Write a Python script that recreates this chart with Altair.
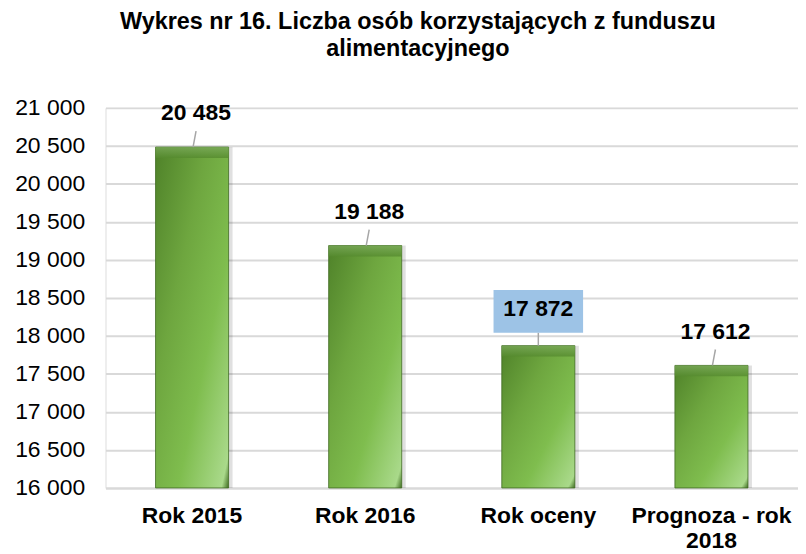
import altair as alt
import pandas as pd

categories = ["Rok 2015", "Rok 2016", "Rok oceny", "Prognoza - rok\n2018"]
values = [20485, 19188, 17872, 17612]
highlighted = [False, False, True, False]
y_ticks = [16000, 16500, 17000, 17500, 18000, 18500, 19000, 19500, 20000, 20500, 21000]
title_lines = ["Wykres nr 16. Liczba osób korzystających z funduszu", "alimentacyjnego"]

df = pd.DataFrame({"cat": categories, "val": values, "hl": highlighted})

FONT = "Liberation Sans"
FS = 23

x_enc = alt.X(
    "cat:N",
    sort=categories,
    title=None,
    scale=alt.Scale(paddingInner=0.578, paddingOuter=0.289),
    axis=alt.Axis(
        labelAngle=0,
        labelFont=FONT,
        labelFontSize=FS,
        labelFontWeight="bold",
        labelColor="#000000",
        labelPadding=17,
        labelLineHeight=25,
        labelExpr="split(datum.label, '\\n')",
        labelOverlap=False,
        ticks=False,
        domain=True,
        domainColor="#d9d9d9",
        domainWidth=2,
        grid=False,
    ),
)
y_scale = alt.Scale(domain=[16000, 21000], nice=False, zero=False)
y_enc = alt.Y(
    "val:Q",
    scale=y_scale,
    title=None,
    axis=alt.Axis(
        values=y_ticks,
        labelExpr="replace(format(datum.value, ','), ',', ' ')",
        labelFont=FONT,
        labelFontSize=FS,
        labelColor="#000000",
        labelPadding=21,
        labelOverlap=False,
        ticks=False,
        domain=False,
        grid=True,
        gridColor="#d9d9d9",
        gridWidth=2,
    ),
)
y0 = alt.Y2(datum=16000)

base = alt.Chart(df).transform_calculate(
    label="replace(format(datum.val, ','), ',', ' ')"
)

shadow = base.mark_bar(color="#000000", opacity=0.12, xOffset=4).encode(
    x=x_enc, y=y_enc, y2=y0
)

bars = base.mark_bar(
    color=alt.Gradient(
        gradient="linear",
        x1=0, y1=0, x2=1, y2=1,
        stops=[
            alt.GradientStop(color="#4f8229", offset=0),
            alt.GradientStop(color="#6ea63f", offset=0.35),
            alt.GradientStop(color="#7fbd4e", offset=0.65),
            alt.GradientStop(color="#a9d98a", offset=0.95),
            alt.GradientStop(color="#3e6b20", offset=1),
        ],
    ),
    stroke="#3f6a22",
    strokeWidth=0.8,
).encode(x=x_enc, y=y_enc, y2=y0)

bevel = base.mark_bar(
    y2Offset=11,
    color=alt.Gradient(
        gradient="linear",
        x1=0, y1=0, x2=0, y2=1,
        stops=[
            alt.GradientStop(color="#7aa95a", offset=0),
            alt.GradientStop(color="#558a2e", offset=1),
        ],
    ),
    opacity=0.8,
).encode(x=x_enc, y=y_enc, y2=alt.Y2("val:Q"))

leaders = base.transform_filter("!datum.hl").mark_rule(
    color="#a6a6a6", strokeWidth=1.5, xOffset=1, x2Offset=4, y2Offset=-16
).encode(x=x_enc, x2=alt.X2("cat:N"), y=y_enc, y2=alt.Y2("val:Q"))

labels = base.transform_filter("!datum.hl").mark_text(
    font=FONT, fontSize=FS, fontWeight="bold", color="#000000",
    baseline="alphabetic", dy=-27, dx=4,
).encode(x=x_enc, y=y_enc, text="label:N")

hl_leader = base.transform_filter("datum.hl").mark_rule(
    color="#a6a6a6", strokeWidth=1.5, y2Offset=-13
).encode(x=x_enc, y=y_enc, y2=alt.Y2("val:Q"))

hl_box = base.transform_filter("datum.hl").mark_bar(
    width=90, color="#9dc3e6", yOffset=-56, y2Offset=-13
).encode(x=x_enc, y=y_enc, y2=alt.Y2("val:Q"))

hl_label = base.transform_filter("datum.hl").mark_text(
    font=FONT, fontSize=FS, fontWeight="bold", color="#000000",
    baseline="alphabetic", dy=-30,
).encode(x=x_enc, y=y_enc, text="label:N")

chart = alt.layer(
    shadow, bars, bevel, leaders, labels, hl_leader, hl_box, hl_label
).properties(
    width=696,
    height=382,
    autosize=alt.AutoSizeParams(type="none"),
    padding={"left": 98, "top": 99, "right": 0, "bottom": 64},
    title=alt.TitleParams(
        text=title_lines,
        font=FONT,
        fontSize=23.5,
        fontWeight="bold",
        color="#000000",
        anchor="middle",
        baseline="alphabetic",
        lineHeight=27,
        offset=14,
        dx=-34,
        dy=-4,
    ),
).configure_view(stroke=None).configure(background="#ffffff")

chart.save("out.html", embed_options={"renderer": "svg", "actions": False})
